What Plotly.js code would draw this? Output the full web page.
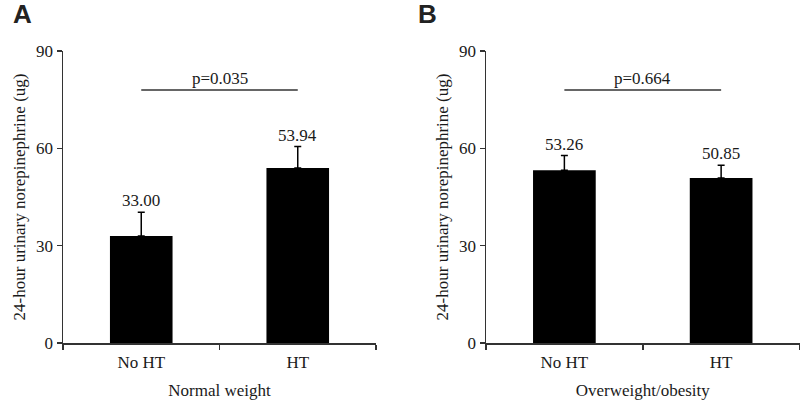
<!DOCTYPE html>
<html>
<head>
<meta charset="utf-8">
<script src="https://cdn.plot.ly/plotly-3.0.1.min.js"></script>
<style>html,body{margin:0;padding:0;background:#fff;}#chart{width:800px;height:401px;}</style>
</head>
<body>
<div id="chart"></div>
<script>
var categories = ["No HT", "HT"];
var normalMeans = [33.00, 53.94];
var normalErr = [7.3, 6.6];
var overMeans = [53.26, 50.85];
var overErr = [4.5, 3.9];
var normalLabels = ["33.00", "53.94"];
var overLabels = ["53.26", "50.85"];
var pValues = ["p=0.035", "p=0.664"];
var pLineY = 78;
var yTicks = [0, 30, 60, 90];
var panelLetters = ["A", "B"];
var groupTitles = ["Normal weight", "Overweight/obesity"];
var yTitle = "24-hour urinary norepinephrine (ug)";

var serif = "Liberation Serif, Times New Roman, serif";
var fs = 17;
var txt = "#1a1a1a";
var axc = "#333";

function barTrace(means, err, xa, ya) {
  return {
    type: "bar", x: categories, y: means, xaxis: xa, yaxis: ya,
    width: 0.4,
    marker: {color: "#000", line: {width: 0}},
    error_y: {type: "data", symmetric: false, array: err, arrayminus: err.map(function(){return 0;}),
              color: "#000", thickness: 1.5, width: 3.5},
    hoverinfo: "none", showlegend: false
  };
}

function pLine(xa, ya) {
  return {
    type: "scatter", mode: "lines", x: categories, y: [pLineY, pLineY],
    xaxis: xa, yaxis: ya, line: {color: axc, width: 1.5},
    hoverinfo: "none", showlegend: false
  };
}

var data = [
  barTrace(normalMeans, normalErr, "x", "y"),
  barTrace(overMeans, overErr, "x2", "y2"),
  pLine("x", "y"),
  pLine("x2", "y2")
];

var annotations = [];
function addLabels(means, err, labels, xr, yr) {
  for (var i = 0; i < categories.length; i++) {
    annotations.push({
      x: categories[i], y: means[i] + err[i], xref: xr, yref: yr,
      text: labels[i], showarrow: false, yanchor: "bottom", yshift: 0,
      font: {family: serif, size: fs, color: txt}
    });
  }
}
addLabels(normalMeans, normalErr, normalLabels, "x", "y");
addLabels(overMeans, overErr, overLabels, "x2", "y2");
annotations.push({x: 0.5, y: pLineY, xref: "x", yref: "y", text: pValues[0], showarrow: false,
  yanchor: "bottom", yshift: 0, font: {family: serif, size: fs, color: txt}});
annotations.push({x: 0.5, y: pLineY, xref: "x2", yref: "y2", text: pValues[1], showarrow: false,
  yanchor: "bottom", yshift: 0, font: {family: serif, size: fs, color: txt}});
annotations.push({x: 22.7/800, y: 1, xref: "paper", yref: "paper", text: "<b>" + panelLetters[0] + "</b>",
  showarrow: false, xanchor: "center", yanchor: "top", borderpad: 0, yshift: 2,
  font: {family: "Liberation Sans, Arial, sans-serif", size: 26, color: "#222"}});
annotations.push({x: 427.5/800, y: 1, xref: "paper", yref: "paper", text: "<b>" + panelLetters[1] + "</b>",
  showarrow: false, xanchor: "center", yanchor: "top", borderpad: 0, yshift: 2,
  font: {family: "Liberation Sans, Arial, sans-serif", size: 26, color: "#222"}});

function xAxis(domain, title, anchor) {
  return {
    domain: domain, anchor: anchor, type: "category", range: [-0.5, 1.5],
    showline: true, linecolor: axc, linewidth: 1.5, showgrid: false, zeroline: false,
    ticks: "outside", tickson: "boundaries", ticklen: 5, tickcolor: axc, tickwidth: 1.5,
    tickfont: {family: serif, size: fs, color: txt}, ticklabelstandoff: 3,
    title: {text: title, font: {family: serif, size: fs, color: txt}, standoff: 13},
    fixedrange: true
  };
}
function yAxis(domain, anchor) {
  return {
    domain: domain, anchor: anchor, range: [0, 90], tickvals: yTicks, ticktext: yTicks.map(String),
    showline: true, linecolor: axc, linewidth: 1.5, showgrid: false, zeroline: false,
    ticks: "outside", ticklen: 5, tickcolor: axc, tickwidth: 1.5,
    tickfont: {family: serif, size: fs, color: txt},
    title: {text: yTitle, font: {family: serif, size: fs, color: txt}, standoff: 6},
    fixedrange: true
  };
}

var yDom = [(401 - 343) / 401, (401 - 51) / 401];
var layout = {
  width: 800, height: 401,
  margin: {l: 0, r: 0, t: 0, b: 0},
  paper_bgcolor: "#fff", plot_bgcolor: "#fff",
  xaxis: xAxis([63 / 800, 376 / 800], groupTitles[0], "y"),
  yaxis: yAxis(yDom, "x"),
  xaxis2: xAxis([486 / 800, 799.5 / 800], groupTitles[1], "y2"),
  yaxis2: yAxis(yDom, "x2"),
  annotations: annotations,
  bargap: 0.6
};

Plotly.newPlot("chart", data, layout, {displayModeBar: false, staticPlot: true});
</script>
</body>
</html>
